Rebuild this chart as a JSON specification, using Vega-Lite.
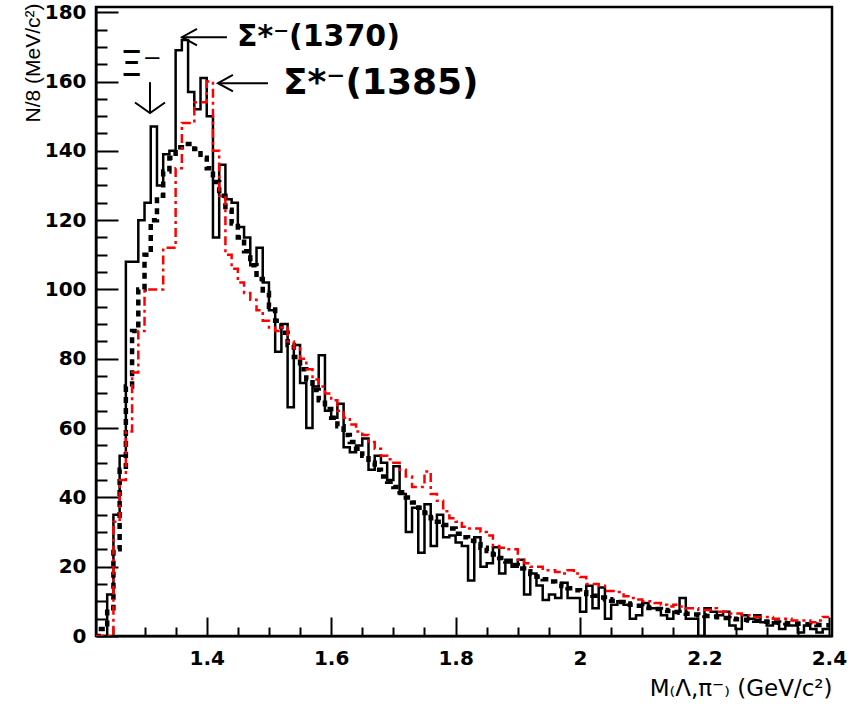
{
  "$schema": "https://vega.github.io/schema/vega-lite/v6.json",
  "width": 736,
  "height": 629,
  "autosize": "none",
  "padding": {"left": 96, "top": 7, "right": 33, "bottom": 70},
  "background": "white",
  "config": {
    "view": {"stroke": "black", "strokeWidth": 2.5},
    "axis": {
      "grid": false,
      "domainColor": "black",
      "domainWidth": 2,
      "tickColor": "black",
      "tickWidth": 2,
      "tickCount": 200,
      "labelColor": "black",
      "labelFont": "DejaVu Sans",
      "labelFontWeight": "bold",
      "labelFontSize": 20,
      "labelOverlap": false,
      "labelBound": false,
      "titleColor": "black",
      "titleFont": "Liberation Sans",
      "titleFontWeight": "normal"
    }
  },
  "datasets": {
    "hist": [
      {"m": 1.22, "data": 0, "fit": 0, "mc": 0},
      {"m": 1.23, "data": 0, "fit": 2, "mc": 0},
      {"m": 1.24, "data": 12, "fit": 8, "mc": 0},
      {"m": 1.25, "data": 35, "fit": 25, "mc": 33},
      {"m": 1.26, "data": 52, "fit": 48, "mc": 45},
      {"m": 1.27, "data": 108, "fit": 72, "mc": 59},
      {"m": 1.28, "data": 108, "fit": 88, "mc": 76},
      {"m": 1.29, "data": 120, "fit": 100, "mc": 88},
      {"m": 1.30, "data": 125, "fit": 110, "mc": 100},
      {"m": 1.31, "data": 147, "fit": 120, "mc": 100},
      {"m": 1.32, "data": 130, "fit": 127, "mc": 100},
      {"m": 1.33, "data": 139, "fit": 134, "mc": 112},
      {"m": 1.34, "data": 140, "fit": 138, "mc": 112},
      {"m": 1.35, "data": 169, "fit": 141, "mc": 135},
      {"m": 1.36, "data": 172, "fit": 142, "mc": 148},
      {"m": 1.37, "data": 157, "fit": 142, "mc": 148},
      {"m": 1.38, "data": 152, "fit": 140.5, "mc": 154},
      {"m": 1.39, "data": 161, "fit": 138, "mc": 154},
      {"m": 1.40, "data": 150, "fit": 135, "mc": 160},
      {"m": 1.41, "data": 115, "fit": 131, "mc": 140},
      {"m": 1.42, "data": 136, "fit": 127, "mc": 127},
      {"m": 1.43, "data": 126, "fit": 123, "mc": 110},
      {"m": 1.44, "data": 125, "fit": 119, "mc": 106},
      {"m": 1.45, "data": 118, "fit": 115, "mc": 102},
      {"m": 1.46, "data": 115, "fit": 111, "mc": 99},
      {"m": 1.47, "data": 107, "fit": 107, "mc": 97},
      {"m": 1.48, "data": 112, "fit": 103, "mc": 94},
      {"m": 1.49, "data": 102, "fit": 99, "mc": 91},
      {"m": 1.50, "data": 94, "fit": 95, "mc": 89},
      {"m": 1.51, "data": 82, "fit": 91, "mc": 88},
      {"m": 1.52, "data": 90, "fit": 87.5, "mc": 89},
      {"m": 1.53, "data": 66, "fit": 84, "mc": 85},
      {"m": 1.54, "data": 84, "fit": 80.5, "mc": 83},
      {"m": 1.55, "data": 73, "fit": 77, "mc": 80},
      {"m": 1.56, "data": 60, "fit": 74, "mc": 77},
      {"m": 1.57, "data": 72, "fit": 71, "mc": 74},
      {"m": 1.58, "data": 81, "fit": 68, "mc": 72},
      {"m": 1.59, "data": 65, "fit": 65.5, "mc": 70},
      {"m": 1.60, "data": 63, "fit": 63, "mc": 68},
      {"m": 1.61, "data": 67, "fit": 60.5, "mc": 65},
      {"m": 1.62, "data": 54.5, "fit": 58, "mc": 63},
      {"m": 1.63, "data": 53, "fit": 56, "mc": 61},
      {"m": 1.64, "data": 55, "fit": 54, "mc": 59},
      {"m": 1.65, "data": 57, "fit": 52, "mc": 58},
      {"m": 1.66, "data": 48, "fit": 50, "mc": 56},
      {"m": 1.67, "data": 52, "fit": 48, "mc": 54},
      {"m": 1.68, "data": 50, "fit": 46, "mc": 52},
      {"m": 1.69, "data": 45, "fit": 44.5, "mc": 51},
      {"m": 1.70, "data": 49, "fit": 43, "mc": 50},
      {"m": 1.71, "data": 41, "fit": 41.5, "mc": 48},
      {"m": 1.72, "data": 30, "fit": 40, "mc": 46},
      {"m": 1.73, "data": 37, "fit": 38.5, "mc": 43},
      {"m": 1.74, "data": 24, "fit": 37, "mc": 43},
      {"m": 1.75, "data": 38, "fit": 35.5, "mc": 47.5},
      {"m": 1.76, "data": 26, "fit": 34, "mc": 41},
      {"m": 1.77, "data": 35, "fit": 33, "mc": 39},
      {"m": 1.78, "data": 28.5, "fit": 32, "mc": 36},
      {"m": 1.79, "data": 29, "fit": 31, "mc": 34},
      {"m": 1.80, "data": 27, "fit": 29.5, "mc": 33},
      {"m": 1.81, "data": 26, "fit": 28.5, "mc": 31.5},
      {"m": 1.82, "data": 16, "fit": 27.5, "mc": 31},
      {"m": 1.83, "data": 28.5, "fit": 26.5, "mc": 31},
      {"m": 1.84, "data": 20, "fit": 25.5, "mc": 30},
      {"m": 1.85, "data": 21, "fit": 24.5, "mc": 29},
      {"m": 1.86, "data": 25.6, "fit": 23.5, "mc": 26},
      {"m": 1.87, "data": 18, "fit": 22.5, "mc": 25.5},
      {"m": 1.88, "data": 22, "fit": 21.5, "mc": 25},
      {"m": 1.89, "data": 20, "fit": 20.5, "mc": 25},
      {"m": 1.90, "data": 22, "fit": 19.5, "mc": 22},
      {"m": 1.91, "data": 12, "fit": 18.7, "mc": 21},
      {"m": 1.92, "data": 18, "fit": 17.9, "mc": 20},
      {"m": 1.93, "data": 14.6, "fit": 17.1, "mc": 20},
      {"m": 1.94, "data": 10.4, "fit": 16.4, "mc": 19},
      {"m": 1.95, "data": 12, "fit": 15.7, "mc": 19},
      {"m": 1.96, "data": 11, "fit": 15, "mc": 18.5},
      {"m": 1.97, "data": 15.4, "fit": 14.4, "mc": 18},
      {"m": 1.98, "data": 11, "fit": 13.8, "mc": 19},
      {"m": 1.99, "data": 11, "fit": 13.2, "mc": 18},
      {"m": 2.00, "data": 7, "fit": 12.6, "mc": 17},
      {"m": 2.01, "data": 14.5, "fit": 12.1, "mc": 15},
      {"m": 2.02, "data": 8, "fit": 11.6, "mc": 15},
      {"m": 2.03, "data": 14, "fit": 11.1, "mc": 14.5},
      {"m": 2.04, "data": 5, "fit": 10.6, "mc": 13},
      {"m": 2.05, "data": 9, "fit": 10.2, "mc": 13},
      {"m": 2.06, "data": 10, "fit": 9.8, "mc": 12.7},
      {"m": 2.07, "data": 9, "fit": 9.4, "mc": 11.5},
      {"m": 2.08, "data": 5, "fit": 9, "mc": 11},
      {"m": 2.09, "data": 6, "fit": 8.7, "mc": 10.5},
      {"m": 2.10, "data": 9.5, "fit": 8.4, "mc": 10},
      {"m": 2.11, "data": 8, "fit": 8.1, "mc": 10},
      {"m": 2.12, "data": 8, "fit": 7.8, "mc": 9.5},
      {"m": 2.13, "data": 6, "fit": 7.5, "mc": 9},
      {"m": 2.14, "data": 5, "fit": 7.2, "mc": 8.5},
      {"m": 2.15, "data": 7, "fit": 6.9, "mc": 9},
      {"m": 2.16, "data": 11, "fit": 6.7, "mc": 8.5},
      {"m": 2.17, "data": 5, "fit": 6.4, "mc": 8},
      {"m": 2.18, "data": 5, "fit": 6.2, "mc": 8},
      {"m": 2.19, "data": 0, "fit": 6, "mc": 7.5},
      {"m": 2.20, "data": 8, "fit": 5.8, "mc": 7.5},
      {"m": 2.21, "data": 7, "fit": 5.6, "mc": 8},
      {"m": 2.22, "data": 6, "fit": 5.4, "mc": 7},
      {"m": 2.23, "data": 7, "fit": 5.2, "mc": 7},
      {"m": 2.24, "data": 3, "fit": 5, "mc": 6.5},
      {"m": 2.25, "data": 2, "fit": 4.8, "mc": 6.5},
      {"m": 2.26, "data": 6, "fit": 4.7, "mc": 6},
      {"m": 2.27, "data": 5, "fit": 4.5, "mc": 6},
      {"m": 2.28, "data": 6, "fit": 4.4, "mc": 5.5},
      {"m": 2.29, "data": 4, "fit": 4.2, "mc": 5.5},
      {"m": 2.30, "data": 3, "fit": 4.1, "mc": 5.5},
      {"m": 2.31, "data": 4, "fit": 3.9, "mc": 5},
      {"m": 2.32, "data": 2, "fit": 3.8, "mc": 5},
      {"m": 2.33, "data": 3, "fit": 3.7, "mc": 5},
      {"m": 2.34, "data": 3, "fit": 3.6, "mc": 4.5},
      {"m": 2.35, "data": 1, "fit": 3.5, "mc": 4.5},
      {"m": 2.36, "data": 3, "fit": 3.4, "mc": 4.5},
      {"m": 2.37, "data": 2, "fit": 3.3, "mc": 4},
      {"m": 2.38, "data": 1, "fit": 3.2, "mc": 4.5},
      {"m": 2.39, "data": 2, "fit": 3.1, "mc": 5.5},
      {"m": 2.40, "data": 2, "fit": 3.1, "mc": 5.5}
    ],
    "arrows": [
      {"x1": 1.3602, "x2": 1.4325, "y1": 172.8, "y2": 172.8, "dir": "left"},
      {"x1": 1.418, "x2": 1.4984, "y1": 159.5, "y2": 159.5, "dir": "left"},
      {"x1": 1.3088, "x2": 1.3088, "y1": 150.9, "y2": 159.8, "dir": "down"}
    ],
    "sig1": [{"x": 1.4486, "y": 172.8, "label": "Σ*⁻(1370)"}],
    "sig2": [{"x": 1.5225, "y": 159.5, "label": "Σ*⁻(1385)"}],
    "xi": [{"x": 1.2606, "y": 164.7, "label": "Ξ⁻"}]
  },
  "layer": [
    {
      "data": {"name": "hist"},
      "mark": {"type": "line", "interpolate": "step-after", "color": "black", "strokeWidth": 2.5, "clip": true},
      "encoding": {
        "x": {
          "field": "m", "type": "quantitative",
          "scale": {"domain": [1.222, 2.405], "nice": false, "zero": false},
          "axis": {
            "values": [1.25, 1.3, 1.35, 1.4, 1.45, 1.5, 1.55, 1.6, 1.65, 1.7, 1.75, 1.8, 1.85, 1.9, 1.95, 2, 2.05, 2.1, 2.15, 2.2, 2.25, 2.3, 2.35, 2.4],
            "tickCount": 200,
            "labelExpr": "datum.value > 2.39 ? '2.4\u00a0\u00a0\u00a0\u00a0\u00a0' : (abs(datum.value * 5 - round(datum.value * 5)) < 0.001 ? '' + datum.value : '')",
            "tickSize": {"condition": {"test": "abs(datum.value * 5 - round(datum.value * 5)) < 0.001", "value": -19}, "value": -9},
            "labelPadding": 31,
            "title": "M₍Λ,π⁻₎ (GeV/c²)",
            "titleFont": "DejaVu Sans",
            "titleFontSize": 23,
            "titleAnchor": "end",
            "titleAlign": "right",
            "titleBaseline": "middle",
            "titleX": 736,
            "titleY": 52
          }
        },
        "y": {
          "field": "data", "type": "quantitative",
          "scale": {"domain": [0, 181.5], "nice": false},
          "axis": {
            "values": [0, 5, 10, 15, 20, 25, 30, 35, 40, 45, 50, 55, 60, 65, 70, 75, 80, 85, 90, 95, 100, 105, 110, 115, 120, 125, 130, 135, 140, 145, 150, 155, 160, 165, 170, 175, 180],
            "tickCount": 200,
            "labelExpr": "datum.value % 20 === 0 ? '' + datum.value : ''",
            "tickSize": {"condition": {"test": "datum.value % 20 === 0", "value": -22}, "value": -11},
            "labelPadding": 32,
            "title": "N/8 (MeV/c²)",
            "titleFontSize": 21,
            "titleAngle": -90,
            "titleAlign": "right",
            "titleBaseline": "middle",
            "titleX": -63,
            "titleY": -4
          }
        }
      }
    },
    {
      "data": {"name": "hist"},
      "mark": {"type": "line", "interpolate": "step-after", "color": "black", "strokeWidth": 4.5, "strokeDash": [6, 5], "clip": true},
      "encoding": {
        "x": {"field": "m", "type": "quantitative"},
        "y": {"field": "fit", "type": "quantitative"}
      }
    },
    {
      "data": {"name": "hist"},
      "mark": {"type": "line", "interpolate": "step-after", "color": "#ff0000", "strokeWidth": 2.5, "strokeDash": [9, 4, 3, 4], "clip": true},
      "encoding": {
        "x": {"field": "m", "type": "quantitative"},
        "y": {"field": "mc", "type": "quantitative"}
      }
    },
    {
      "data": {"name": "arrows"},
      "mark": {"type": "rule", "color": "black", "strokeWidth": 2},
      "encoding": {
        "x": {"field": "x1", "type": "quantitative"},
        "x2": {"field": "x2"},
        "y": {"field": "y1", "type": "quantitative"},
        "y2": {"field": "y2"}
      }
    },
    {
      "data": {"name": "arrows"},
      "mark": {"type": "point", "filled": false, "stroke": "black", "strokeWidth": 2, "size": 900, "opacity": 1},
      "encoding": {
        "x": {"field": "x1", "type": "quantitative"},
        "y": {"field": "y1", "type": "quantitative"},
        "shape": {
          "field": "dir", "type": "nominal", "legend": null,
          "scale": {"domain": ["left", "down"], "range": ["M1,-0.55L0,0L1,0.55", "M-1,-0.7L0,0L1,-0.7"]}
        }
      }
    },
    {
      "data": {"name": "sig1"},
      "mark": {"type": "text", "font": "DejaVu Sans", "fontWeight": "bold", "fontSize": 30, "align": "left", "baseline": "middle", "color": "black"},
      "encoding": {
        "x": {"field": "x", "type": "quantitative"},
        "y": {"field": "y", "type": "quantitative"},
        "text": {"field": "label"}
      }
    },
    {
      "data": {"name": "sig2"},
      "mark": {"type": "text", "font": "DejaVu Sans", "fontWeight": "bold", "fontSize": 36, "align": "left", "baseline": "middle", "color": "black"},
      "encoding": {
        "x": {"field": "x", "type": "quantitative"},
        "y": {"field": "y", "type": "quantitative"},
        "text": {"field": "label"}
      }
    },
    {
      "data": {"name": "xi"},
      "mark": {"type": "text", "font": "DejaVu Sans", "fontSize": 36, "align": "left", "baseline": "middle", "color": "black"},
      "encoding": {
        "x": {"field": "x", "type": "quantitative"},
        "y": {"field": "y", "type": "quantitative"},
        "text": {"field": "label"}
      }
    }
  ]
}
